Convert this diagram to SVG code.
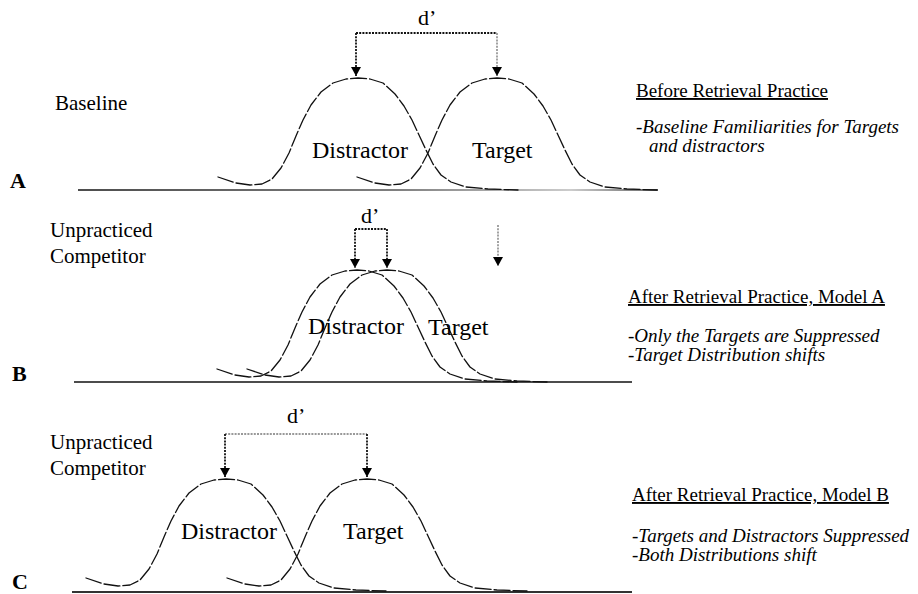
<svg xmlns="http://www.w3.org/2000/svg" xmlns:xlink="http://www.w3.org/1999/xlink" width="918" height="594" viewBox="0 0 918 594">
<style>
  text{font-family:"Liberation Serif","Times New Roman",serif;fill:#000}
  .lbl{font-size:21px}
  .big{font-size:24px}
  .dp{font-size:22px}
  .pl{font-size:22px;font-weight:bold}
  .hd{font-size:19px;text-decoration:underline}
  .it{font-size:19px;font-style:italic}
  .curve{fill:none;stroke:#111;stroke-width:1.3;stroke-dasharray:16 3;stroke-linejoin:round;stroke-linecap:round}
  .axis{fill:none;stroke:#111;stroke-width:1.5}
  .dot{fill:none;stroke:#111;stroke-width:1.8;stroke-dasharray:2 1.2}
  .dot.light{stroke:#999}
</style>
<defs>
  <path id="bell" class="curve" d="M-140,99 L-122,105 L-108,107 L-96,106 L-86,101 L-77,90 L-69,75 L-62,58 L-55,42 L-47,27 L-37,14 L-25,5 L-12,1 L0,0 L12,1 L25,5 L37,16 L46,28 L54,42 L61,57 L68,72 L75,86 L83,97 L93,104 L108,109 L130,111 L160,112"/>
  <marker id="ah" markerUnits="userSpaceOnUse" markerWidth="12" markerHeight="12" viewBox="0 -6 10 12" refX="9" refY="0" orient="auto">
    <path d="M0,-5 L9,0 L0,5 z" fill="#000"/>
  </marker>
  <linearGradient id="fadeA" x1="78" y1="0" x2="658" y2="0" gradientUnits="userSpaceOnUse">
    <stop offset="0" stop-color="#111"/>
    <stop offset="0.55" stop-color="#555"/>
    <stop offset="0.85" stop-color="#bbb"/>
    <stop offset="1" stop-color="#333"/>
  </linearGradient>
</defs>

<!-- Panel A -->
<g id="panelA">
  <text class="pl" x="10" y="188">A</text>
  <text class="lbl" x="55" y="110">Baseline</text>
  <line x1="78" y1="190" x2="658" y2="190" stroke="url(#fadeA)" stroke-width="1.5"/>
  <g id="A-distractor">
    <use xlink:href="#bell" href="#bell" transform="translate(358,78)"/>
    <text class="big" x="312" y="158">Distractor</text>
  </g>
  <g id="A-target">
    <use xlink:href="#bell" href="#bell" transform="translate(497,78)"/>
    <text class="big" x="472" y="158">Target</text>
  </g>
  <text class="dp" x="418" y="25">d’</text>
  <g id="A-note">
    <text class="hd" x="636" y="97">Before Retrieval Practice</text>
    <text class="it" x="636" y="133">-Baseline Familiarities for Targets</text>
    <text class="it" x="649" y="152">and distractors</text>
  </g>
</g>

<!-- Panel B -->
<g id="panelB">
  <text class="pl" x="12" y="381">B</text>
  <text class="lbl" x="50" y="237">Unpracticed</text>
  <text class="lbl" x="50" y="263">Competitor</text>
  <line class="axis" x1="74" y1="382" x2="632" y2="382"/>
  <g id="B-distractor">
    <use xlink:href="#bell" href="#bell" transform="translate(357,270)"/>
    <text class="big" x="308" y="334">Distractor</text>
  </g>
  <g id="B-target">
    <use xlink:href="#bell" href="#bell" transform="translate(387,270)"/>
    <text class="big" x="428" y="335">Target</text>
  </g>
  <text class="dp" x="361" y="223">d’</text>
  <g id="B-note">
    <text class="hd" x="628" y="303">After Retrieval Practice, Model A</text>
    <text class="it" x="628" y="342">-Only the Targets are Suppressed</text>
    <text class="it" x="628" y="361">-Target Distribution shifts</text>
  </g>
</g>

<!-- Panel C -->
<g id="panelC">
  <text class="pl" x="12" y="589">C</text>
  <text class="lbl" x="50" y="449">Unpracticed</text>
  <text class="lbl" x="50" y="475">Competitor</text>
  <line x1="72" y1="592" x2="632" y2="592" stroke="#333" stroke-width="2"/>
  <g id="C-distractor">
    <use xlink:href="#bell" href="#bell" transform="translate(226,479)"/>
    <text class="big" x="181" y="539">Distractor</text>
  </g>
  <g id="C-target">
    <use xlink:href="#bell" href="#bell" transform="translate(367,479)"/>
    <text class="big" x="343" y="539">Target</text>
  </g>
  <text class="dp" x="287" y="423">d’</text>
  <g id="C-note">
    <text class="hd" x="632" y="501">After Retrieval Practice, Model B </text>
    <text class="it" x="632" y="542">-Targets and Distractors Suppressed</text>
    <text class="it" x="632" y="561">-Both Distributions shift</text>
  </g>
</g>

<!-- Connectors (d' brackets) -->
<g id="connectors">
  <path class="dot" d="M356,33 H497"/>
  <path class="dot" d="M356,33 V76" marker-end="url(#ah)"/>
  <path class="dot light" d="M497,33 V76" marker-end="url(#ah)"/>

  <path class="dot" d="M355,229 H387"/>
  <path class="dot" d="M355,229 V268" marker-end="url(#ah)"/>
  <path class="dot" d="M387,229 V268" marker-end="url(#ah)"/>
  <path class="dot light" d="M498,225 V266" marker-end="url(#ah)"/>

  <path class="dot light" d="M225,434 H367"/>
  <path class="dot" d="M225,434 V477" marker-end="url(#ah)"/>
  <path class="dot" d="M367,434 V477" marker-end="url(#ah)"/>
</g>
</svg>
